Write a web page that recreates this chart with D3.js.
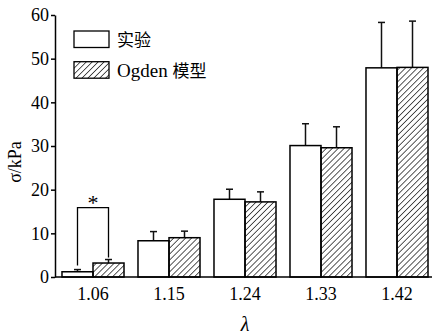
<!DOCTYPE html>
<html>
<head>
  <meta charset="utf-8">
  <script src="https://d3js.org/d3.v7.min.js"></script>
</head>
<body style="margin:0;background:#fff">
  <script>
    // data
    const lambdas = ['1.06', '1.15', '1.24', '1.33', '1.42'];
    const expMean = [1.2, 8.3, 17.8, 30.1, 47.9];
    const expErr  = [0.5, 2.1, 2.3, 5.0, 10.4];
    const ogdMean = [3.2, 9.0, 17.2, 29.6, 48.0];
    const ogdErr  = [0.8, 1.5, 2.3, 4.8, 10.6];
    const yTicks = [0, 10, 20, 30, 40, 50, 60];
    const seriesNames = ['实验', 'Ogden 模型'];

    const w = 436, h = 336;
    const mLeft = 55, mRight = 435, mTop = 15, mBottom = 277;
    const serif = "'Liberation Serif', 'Times New Roman', Times, 'DejaVu Serif', serif";
    const cjk = "'Noto Sans CJK SC', sans-serif";

    const svg = d3.select('body').append('svg')
      .attr('width', w)
      .attr('height', h);

    const defs = svg.append('defs');
    defs.append('pattern')
      .attr('id', 'hatch')
      .attr('patternUnits', 'userSpaceOnUse')
      .attr('width', 4.2)
      .attr('height', 4.2)
      .attr('patternTransform', 'rotate(45)')
      .append('line')
      .attr('x1', 0).attr('y1', 0)
      .attr('x2', 0).attr('y2', 4.2)
      .attr('stroke', '#000')
      .attr('stroke-width', 1.3);

    const x0 = d3.scaleBand()
      .domain(lambdas)
      .range([mLeft, mRight])
      .paddingInner(0.184)
      .paddingOuter(0.092);

    const x1 = d3.scaleBand()
      .domain([0, 1])
      .range([0, x0.bandwidth()]);

    const y = d3.scaleLinear()
      .domain([0, 60])
      .range([mBottom, mTop]);

    const rows = lambdas.map((l, i) => ({
      l,
      vals: [
        { s: 0, m: expMean[i], e: expErr[i] },
        { s: 1, m: ogdMean[i], e: ogdErr[i] }
      ]
    }));

    const groups = svg.append('g').selectAll('g')
      .data(rows)
      .enter()
      .append('g')
      .attr('transform', d => `translate(${x0(d.l)},0)`);

    // error bars
    const eb = groups.selectAll('.eb')
      .data(d => d.vals)
      .enter()
      .append('g')
      .attr('class', 'eb')
      .attr('stroke', '#111')
      .attr('stroke-width', 1.5);
    eb.append('line')
      .attr('x1', d => x1(d.s) + x1.bandwidth() / 2)
      .attr('x2', d => x1(d.s) + x1.bandwidth() / 2)
      .attr('y1', d => y(d.m))
      .attr('y2', d => y(d.m + d.e));
    eb.append('line')
      .attr('x1', d => x1(d.s) + x1.bandwidth() / 2 - 3.5)
      .attr('x2', d => x1(d.s) + x1.bandwidth() / 2 + 3.5)
      .attr('y1', d => y(d.m + d.e))
      .attr('y2', d => y(d.m + d.e));

    groups.selectAll('rect')
      .data(d => d.vals)
      .enter()
      .append('rect')
      .attr('x', d => x1(d.s))
      .attr('y', d => y(d.m))
      .attr('width', x1.bandwidth())
      .attr('height', d => y(0) - y(d.m))
      .attr('fill', d => d.s ? 'url(#hatch)' : '#fff')
      .attr('stroke', '#000')
      .attr('stroke-width', 1.5);

    // significance bracket at 1.06
    const bx = x0(lambdas[0]);
    const cA = bx + x1(0) + x1.bandwidth() / 2;
    const cB = bx + x1(1) + x1.bandwidth() / 2;
    const yTop = y(15.9);
    svg.append('path')
      .attr('d', `M${cA},${y(expMean[0] + expErr[0]) - 4}V${yTop}H${cB}V${y(ogdMean[0] + ogdErr[0]) - 2}`)
      .attr('fill', 'none')
      .attr('stroke', '#000')
      .attr('stroke-width', 1.3);
    svg.append('text')
      .attr('x', (cA + cB) / 2)
      .attr('y', yTop + 2)
      .attr('text-anchor', 'middle')
      .style('font-family', serif)
      .style('font-size', '22px')
      .text('*');

    // axes
    const yAxis = d3.axisLeft(y).tickValues(yTicks).tickSize(4).tickSizeOuter(0).tickPadding(2);
    svg.append('g')
      .attr('transform', `translate(${mLeft},0)`)
      .call(yAxis)
      .call(g => g.selectAll('path, line').attr('stroke-width', 1.5))
      .call(g => g.selectAll('text')
        .style('font-family', serif)
        .style('font-size', '18px'));

    const xAxis = d3.axisBottom(x0).tickSize(0).tickSizeOuter(0).tickPadding(10);
    svg.append('g')
      .attr('transform', `translate(0,${mBottom})`)
      .call(xAxis)
      .call(g => g.select('.domain')
        .attr('d', `M${mLeft},0H${mRight - 3}`)
        .attr('stroke-width', 1.5))
      .call(g => g.selectAll('text')
        .style('font-family', serif)
        .style('font-size', '18px'));

    svg.append('text')
      .attr('transform', 'translate(21,162) rotate(-90)')
      .attr('text-anchor', 'middle')
      .style('font-family', serif)
      .style('font-size', '18px')
      .text('σ/kPa');

    svg.append('text')
      .attr('x', 245)
      .attr('y', 331)
      .attr('text-anchor', 'middle')
      .style('font-family', serif)
      .style('font-size', '20px')
      .style('font-style', 'italic')
      .text('λ');

    // legend
    const leg = svg.append('g').selectAll('g')
      .data(seriesNames)
      .enter()
      .append('g')
      .attr('transform', (d, i) => `translate(74,${31 + i * 30.7})`);
    leg.append('rect')
      .attr('width', 35)
      .attr('height', 16.5)
      .attr('fill', (d, i) => i ? 'url(#hatch)' : '#fff')
      .attr('stroke', '#000')
      .attr('stroke-width', 1.3);
    leg.append('text')
      .attr('x', 43)
      .attr('y', 15)
      .each(function(d) {
        const t = d3.select(this);
        const parts = d.split(' ');
        if (parts.length > 1) {
          t.append('tspan').style('font-family', serif).style('font-size', '19px').text(parts[0] + ' ');
          t.append('tspan').style('font-family', cjk).style('font-size', '17px').text(parts[1]);
        } else {
          t.append('tspan').style('font-family', cjk).style('font-size', '17px').text(d);
        }
      });
  </script>
</body>
</html>
